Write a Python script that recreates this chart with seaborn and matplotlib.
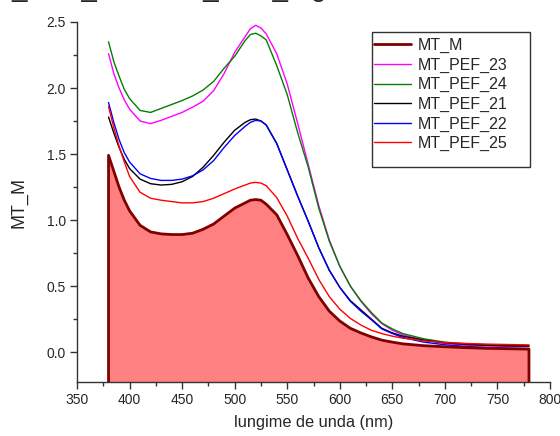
import numpy as np
import pandas as pd
import matplotlib
matplotlib.use("Agg")
import matplotlib.pyplot as plt
import seaborn as sns
from matplotlib.ticker import MultipleLocator
from matplotlib.patches import Rectangle

wavelength = [380, 385, 390, 395, 400, 410, 420, 430, 440, 450, 460, 470, 480, 490,
              500, 510, 515, 520, 525, 530, 540, 550, 560, 570, 580, 590, 600, 610,
              620, 630, 640, 650, 660, 680, 700, 720, 740, 760, 780]

mt_m = [1.49, 1.37, 1.25, 1.15, 1.07, 0.96, 0.91, 0.895, 0.89, 0.89, 0.90, 0.93, 0.97, 1.03,
        1.09, 1.13, 1.15, 1.155, 1.15, 1.12, 1.04, 0.89, 0.73, 0.56, 0.42, 0.31, 0.235, 0.18,
        0.145, 0.115, 0.09, 0.075, 0.062, 0.048, 0.04, 0.033, 0.028, 0.025, 0.022]

mt_pef_23 = [2.26, 2.11, 2.00, 1.91, 1.84, 1.75, 1.73, 1.755, 1.785, 1.815, 1.855, 1.90, 1.98, 2.11,
             2.27, 2.39, 2.45, 2.475, 2.455, 2.41, 2.26, 2.03, 1.73, 1.42, 1.11, 0.85, 0.65, 0.50,
             0.385, 0.29, 0.215, 0.165, 0.13, 0.09, 0.065, 0.052, 0.046, 0.042, 0.04]

mt_pef_24 = [2.35, 2.20, 2.09, 1.99, 1.92, 1.83, 1.815, 1.845, 1.875, 1.905, 1.94, 1.985, 2.05, 2.15,
             2.24, 2.36, 2.405, 2.415, 2.395, 2.365, 2.17, 1.95, 1.66, 1.40, 1.09, 0.84, 0.65, 0.50,
             0.39, 0.30, 0.22, 0.175, 0.14, 0.10, 0.075, 0.062, 0.055, 0.05, 0.048]

mt_pef_21 = [1.78, 1.66, 1.55, 1.46, 1.39, 1.31, 1.275, 1.265, 1.27, 1.29, 1.33, 1.40, 1.49, 1.59,
             1.68, 1.74, 1.76, 1.765, 1.75, 1.72, 1.58, 1.38, 1.18, 0.99, 0.79, 0.62, 0.49, 0.39,
             0.32, 0.25, 0.18, 0.145, 0.12, 0.09, 0.07, 0.058, 0.051, 0.047, 0.045]

mt_pef_22 = [1.89, 1.74, 1.61, 1.51, 1.44, 1.35, 1.315, 1.30, 1.30, 1.31, 1.335, 1.38, 1.45, 1.55,
             1.64, 1.71, 1.74, 1.755, 1.75, 1.72, 1.58, 1.38, 1.18, 0.99, 0.79, 0.62, 0.49, 0.385,
             0.31, 0.245, 0.175, 0.14, 0.11, 0.075, 0.055, 0.042, 0.034, 0.029, 0.025]

mt_pef_25 = [1.86, 1.70, 1.56, 1.44, 1.33, 1.21, 1.165, 1.15, 1.14, 1.13, 1.13, 1.14, 1.165, 1.20,
             1.235, 1.265, 1.28, 1.285, 1.28, 1.26, 1.17, 1.03, 0.86, 0.71, 0.55, 0.42, 0.325, 0.255,
             0.205, 0.165, 0.14, 0.12, 0.105, 0.085, 0.072, 0.065, 0.06, 0.057, 0.054]

series_names = ["MT_M", "MT_PEF_23", "MT_PEF_24", "MT_PEF_21", "MT_PEF_22", "MT_PEF_25"]
series_values = [mt_m, mt_pef_23, mt_pef_24, mt_pef_21, mt_pef_22, mt_pef_25]
colors = ["#800000", "#FF00FF", "#008000", "#000000", "#0000FF", "#FF0000"]
x_ticks = [350, 400, 450, 500, 550, 600, 650, 700, 750, 800]
y_ticks = [0.0, 0.5, 1.0, 1.5, 2.0, 2.5]

x_label = "lungime de unda (nm)"
y_label = "MT_M"
title_text = "MT_PEF_MT, PEF_PEF_Mg"

sns.set_style("ticks")
plt.rcParams["font.family"] = ["Liberation Sans", "DejaVu Sans"]

YLO, YHI = -0.227, 2.5

fig = plt.figure(figsize=(5.6, 4.36), dpi=100)
ax = fig.add_axes([77 / 560, 54 / 436, 473 / 560, 360 / 436])

df = pd.DataFrame({"wl": wavelength})
for name, vals in zip(series_names, series_values):
    df[name] = vals

# filled main spectrum
ax.fill_between(df["wl"], df["MT_M"], YLO, color="#FF8080", lw=0, zorder=1)

order_draw = ["MT_PEF_23", "MT_PEF_24", "MT_PEF_21", "MT_PEF_22", "MT_PEF_25"]
for name in order_draw:
    c = colors[series_names.index(name)]
    sns.lineplot(data=df, x="wl", y=name, color=c, lw=1.0, ax=ax,
                 estimator=None, sort=False, zorder=3)

# outline of the filled spectrum including its vertical edges
edge = pd.DataFrame({
    "wl": [wavelength[0]] + list(wavelength) + [wavelength[-1]],
    "v": [YLO] + list(mt_m) + [YLO],
})
sns.lineplot(data=edge, x="wl", y="v", color=colors[0], lw=2.0, ax=ax,
             estimator=None, sort=False, zorder=4)

ax.set_xlim(350, 800)
ax.set_ylim(YLO, YHI)
ax.set_xticks(x_ticks)
ax.set_yticks(y_ticks)
ax.xaxis.set_minor_locator(MultipleLocator(25))
ax.yaxis.set_minor_locator(MultipleLocator(0.25))
ax.set_xticklabels([str(t) for t in x_ticks])
ax.set_yticklabels([f"{t:.1f}" for t in y_ticks])

for s in ["top", "right"]:
    ax.spines[s].set_visible(False)
for s in ["left", "bottom"]:
    ax.spines[s].set_color("#333333")
    ax.spines[s].set_linewidth(1.0)

ax.tick_params(which="major", direction="out", length=5, width=1.0, color="#333333",
               labelsize=10, pad=3)
ax.tick_params(which="minor", direction="out", length=3, width=1.0, color="#333333")

ax.set_xlabel(x_label, fontsize=11.8, labelpad=6)
ax.set_ylabel(y_label, fontsize=13, labelpad=14)

leg_handles = [plt.Line2D([], [], color=c, lw=(2.0 if i == 0 else 1.0))
               for i, c in enumerate(colors)]
ax.legend(leg_handles, series_names, frameon=False, loc="upper left",
          bbox_to_anchor=((374 - 77) / 473, (382 - 38) / 360), borderpad=0.0,
          borderaxespad=0, fontsize=11.5, handlelength=2.3, handletextpad=0.45,
          labelspacing=0.28)
ax.add_patch(Rectangle(((372 - 77) / 473, (382 - 167) / 360), 158 / 473, 135 / 360,
                       transform=ax.transAxes, fill=False, edgecolor="#333333",
                       lw=1.0, clip_on=False, zorder=5))

fig.text(-28 / 560, 1 + 4 / 436, title_text, fontsize=20, ha="left", va="baseline")

fig.savefig("out.png", dpi=100)
